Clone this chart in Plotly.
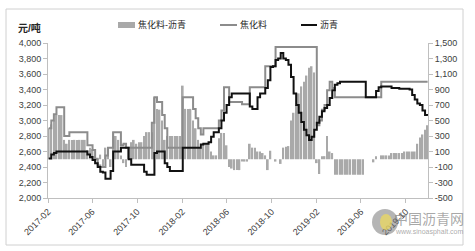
import plotly.graph_objects as go
import pandas as pd

# ---------------- data (weekly) ----------------
week_start = "2017-02-03"
n_weeks = 148

coke = [
    2900, 3000, 3080, 3170, 3170, 3170, 2800, 2800, 2850, 2850,
    2850, 2850, 2850, 2850, 2850, 2680, 2680, 2620, 2500, 2420,
    2400, 2400, 2550, 2650, 2650, 2850, 2850, 2850, 2680, 2700,
    2650, 2650, 2650, 2650, 2650, 2650, 2650, 2650, 2650, 2650,
    2970, 3300, 3240, 3240, 3070, 2900, 2650, 2650, 2650, 2650,
    2650, 2650, 3300, 3300, 3300, 3300, 3150, 3030, 2900, 2820,
    2900, 2900, 2900, 2900, 2900, 2900, 3000, 3130, 3430, 3430,
    3240, 3240, 3240, 3240, 3240, 3210, 3210, 3210, 3430, 3430,
    3430, 3430, 3430, 3430, 3700, 3700, 3700, 3700, 3950, 3950,
    3950, 3950, 3950, 3950, 3950, 3950, 3950, 3950, 3950, 3950,
    3950, 3950, 3950, 3950, 2940, 3000, 3140, 3200, 3390, 3500,
    3420, 3300, 3300, 3300, 3300, 3300, 3300, 3300, 3300, 3300,
    3300, 3300, 3300, 3300, 3300, 3300, 3300, 3300, 3300, 3500,
    3500, 3500, 3500, 3500, 3500, 3500, 3500, 3500, 3500, 3500,
    3500, 3500, 3500, 3500, 3500, 3500, 3500, 3500,
]

asphalt = [
    2510, 2560, 2580, 2600, 2600, 2600, 2600, 2600, 2600, 2600,
    2600, 2600, 2600, 2600, 2600, 2560, 2530, 2490, 2450, 2400,
    2340, 2330, 2250, 2250, 2350, 2600, 2600, 2600, 2650, 2650,
    2650, 2500, 2430, 2430, 2430, 2430, 2430, 2340, 2300, 2300,
    2300, 2580, 2600, 2600, 2600, 2450, 2400, 2350, 2350, 2350,
    2350, 2350, 2650, 2650, 2650, 2650, 2650, 2650, 2650, 2690,
    2700, 2700, 2720, 2790, 2850, 2850, 2900, 3000, 3100, 3200,
    3300, 3350, 3350, 3350, 3350, 3350, 3350, 3350, 3180, 3150,
    3150, 3300, 3350, 3350, 3420, 3520, 3690, 3700, 3780, 3800,
    3870, 3800, 3780, 3720, 3560, 3350, 3200, 3100, 2980, 2880,
    2810, 2750, 2790, 2880, 2970, 3050, 3120, 3160, 3200, 3290,
    3390, 3460, 3480, 3500, 3500, 3500, 3500, 3500, 3500, 3500,
    3500, 3500, 3500, 3300, 3300, 3300, 3300, 3380, 3430, 3440,
    3440, 3440, 3440, 3420, 3420, 3420, 3410, 3410, 3410, 3410,
    3400, 3330, 3270, 3220, 3200, 3130, 3070, 3060,
]

spread = [
    400, 450, 500, 570, 570, 570, 250, 200, 250, 250,
    250, 250, 250, 250, 250, 120, 150, 130, 50, 20,
    60, -100, 150, 150, -100, 350, 300, 250, 50, -50,
    -100, 150, 220, 250, 200, 220, 220, 300, 350, 350,
    350, 800, 650, 640, 500, 250, 300, 300, 300, 300,
    300, 300, 950, 650, 650, 650, 500, 400, 250, 150,
    200, 200, 200, 100, 50, 50, 270, 340, 340, 180,
    -100, -120, -140, -140, -140, -30, -30, -30, 200, 150,
    150, 100, 100, 80, 50, -140, 110, 0, -30, 0,
    -60, 150, 160, 170, 500, 600, 700, 850, 940, 1000,
    1080, 1180, 1200, 1120, -50, -190, 40, 40, 300, 100,
    80, -200, -200, -200, -200, -200, -200, -200, -200, -200,
    -200, -200, -200, 0, 0, 0, -40, 40, 0, 50,
    50, 50, 50, 80, 80, 80, 80, 80, 100, 100,
    100, 100, 100, 200, 280, 320, 380, 440,
]

x_ticks = ["2017-02-01", "2017-06-01", "2017-10-01", "2018-02-01", "2018-06-01",
           "2018-10-01", "2019-02-01", "2019-06-01", "2019-10-01"]
x_tick_text = ["2017-02", "2017-06", "2017-10", "2018-02", "2018-06",
               "2018-10", "2019-02", "2019-06", "2019-10"]
left_ticks = [2000, 2200, 2400, 2600, 2800, 3000, 3200, 3400, 3600, 3800, 4000]
left_tick_text = ["2,000", "2,200", "2,400", "2,600", "2,800", "3,000",
                  "3,200", "3,400", "3,600", "3,800", "4,000"]
right_ticks = [-500, -300, -100, 100, 300, 500, 700, 900, 1100, 1300, 1500]
right_tick_text = ["-500", "-300", "-100", "100", "300", "500", "700", "900",
                   "1,100", "1,300", "1,500"]

names = ["焦化料-沥青", "焦化料", "沥青"]
unit_label = "元/吨"

dates = pd.date_range(week_start, periods=n_weeks, freq="7D")

# ---------------- styling ----------------
W, H = 475, 251
L, R, T, B = 48, 428, 43, 198
FONT = "Liberation Sans, Noto Sans CJK SC, sans-serif"
BAR_C = "#a9a9a9"
COKE_C = "#8c8c8c"
ASP_C = "#111111"
TXT_C = "#404040"
AX_C = "#bfbfbf"


def px(x):
    return (x - L) / (R - L)


def py(y):
    return (B - y) / (B - T)


fig = go.Figure()
fig.add_trace(go.Bar(x=dates, y=spread, name=names[0], marker_color=BAR_C,
                     marker_line_width=0, yaxis="y"))
fig.add_trace(go.Scatter(x=dates, y=coke, name=names[1], mode="lines",
                         line=dict(color=COKE_C, width=2, shape="hv"), yaxis="y2"))
fig.add_trace(go.Scatter(x=dates, y=asphalt, name=names[2], mode="lines",
                         line=dict(color=ASP_C, width=2, shape="hv"), yaxis="y2"))

tickfont = dict(family=FONT, size=9, color=TXT_C)

fig.update_layout(
    width=W, height=H,
    margin=dict(l=L, r=W - R, t=T, b=H - B, pad=0),
    paper_bgcolor="white", plot_bgcolor="white",
    showlegend=False,
    bargap=0.35,
    font=dict(family=FONT, color=TXT_C),
    xaxis=dict(
        type="date", range=["2017-02-01", "2019-11-30"],
        tickvals=x_ticks, ticktext=x_tick_text, tickangle=-45,
        tickfont=tickfont, showgrid=False, zeroline=False,
        showline=True, linecolor=AX_C, linewidth=1,
        ticks="outside", ticklen=4, tickcolor=AX_C,
    ),
    yaxis=dict(
        side="right", range=[-500, 1500],
        tickvals=right_ticks, ticktext=right_tick_text, tickfont=tickfont,
        showgrid=False, zeroline=False,
        showline=True, linecolor=AX_C, linewidth=1,
        ticks="outside", ticklen=4, tickcolor=AX_C,
    ),
    yaxis2=dict(
        side="left", overlaying="y", range=[2000, 4000],
        tickvals=left_ticks, ticktext=left_tick_text, tickfont=tickfont,
        showgrid=False, zeroline=False,
        showline=True, linecolor=AX_C, linewidth=1,
        ticks="outside", ticklen=4, tickcolor=AX_C,
    ),
)

shapes = []
annotations = []

# outer frame
shapes.append(dict(type="rect", xref="paper", yref="paper",
                   x0=px(6), x1=px(463), y0=py(245), y1=py(9),
                   line=dict(color="#d0d0d0", width=1), layer="below"))

# unit label
annotations.append(dict(x=px(16), y=py(28), xref="paper", yref="paper",
                        text="<b>" + unit_label + "</b>", showarrow=False,
                        xanchor="left", yanchor="middle",
                        font=dict(family=FONT, size=10, color="#262626")))

# manual legend
leg_y = 25
shapes.append(dict(type="rect", xref="paper", yref="paper",
                   x0=px(118), x1=px(135), y0=py(28), y1=py(22),
                   fillcolor=BAR_C, line=dict(width=0)))
shapes.append(dict(type="line", xref="paper", yref="paper",
                   x0=px(220), x1=px(237), y0=py(leg_y), y1=py(leg_y),
                   line=dict(color=COKE_C, width=2)))
shapes.append(dict(type="line", xref="paper", yref="paper",
                   x0=px(301), x1=px(317), y0=py(leg_y), y1=py(leg_y),
                   line=dict(color=ASP_C, width=2)))
for xx, nm in zip([136, 238, 318], names):
    annotations.append(dict(x=px(xx), y=py(leg_y), xref="paper", yref="paper",
                            text=nm, showarrow=False, xanchor="left",
                            yanchor="middle",
                            font=dict(family=FONT, size=9, color="#262626")))

# watermark
shapes.append(dict(type="circle", xref="paper", yref="paper",
                   x0=px(372), x1=px(398), y0=py(235), y1=py(209),
                   fillcolor="rgba(120,120,120,0.55)", line=dict(width=0)))
shapes.append(dict(type="circle", xref="paper", yref="paper",
                   x0=px(380), x1=px(392), y0=py(230), y1=py(214),
                   fillcolor="rgba(240,220,90,0.7)", line=dict(width=0)))
annotations.append(dict(x=px(392), y=py(218), xref="paper", yref="paper",
                        text="中国沥青网", showarrow=False, xanchor="left",
                        yanchor="middle",
                        font=dict(family="Noto Sans CJK SC", size=14,
                                  color="rgba(110,110,110,0.6)")))
annotations.append(dict(x=px(393), y=py(232), xref="paper", yref="paper",
                        text="www.sinoasphalt.com", showarrow=False,
                        xanchor="left", yanchor="middle",
                        font=dict(family=FONT, size=7,
                                  color="rgba(110,110,110,0.6)")))

fig.update_layout(shapes=shapes, annotations=annotations)

fig.write_html("out.html")
